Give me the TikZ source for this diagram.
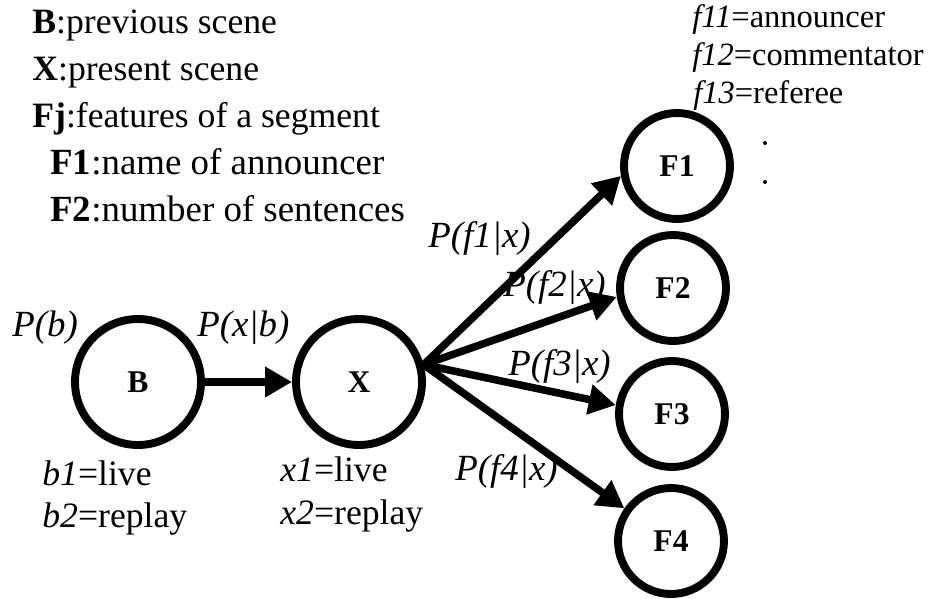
\documentclass[tikz,border=0pt]{standalone}
\usepackage{fontspec}
\setmainfont{Liberation Serif}
\usetikzlibrary{arrows.meta}

\tikzset{
  scene/.style={draw, circle, line width=4.5pt, minimum size=2.52cm, inner sep=0pt,
                font=\fontsize{18}{21}\selectfont\bfseries},
  featnode/.style={scene, minimum size=2.12cm},
  link/.style={line width=4.3pt, -{Triangle[length=0.54cm, width=0.58cm]}},
  legendtext/.style={anchor=base west, inner sep=0pt, font=\fontsize{20.3}{24}\selectfont},
  sublegend/.style={legendtext, font=\fontsize{21}{25}\selectfont},
  valtext/.style={anchor=base west, inner sep=0pt, font=\fontsize{18.5}{22}\selectfont},
  probtext/.style={anchor=west, inner sep=0pt, font=\fontsize{21}{25}\selectfont\itshape},
}

\begin{document}
\begin{tikzpicture}[x=0.02cm, y=-0.02cm]
  \fill[white] (0,0) rectangle (931,599);
  \useasboundingbox (0,0) rectangle (931,599);

  % legend
  \node[legendtext] (lgB)  at (32,33)  {\textbf{B}:previous scene};
  \node[legendtext] (lgX)  at (32,80)  {\textbf{X}:present scene};
  \node[legendtext] (lgFj) at (32,127) {\textbf{Fj}:features of a segment};
  \node[sublegend]  (lgF1) at (50,174) {\textbf{F1}:name of announcer};
  \node[sublegend]  (lgF2) at (50,221) {\textbf{F2}:number of sentences};

  % values of F1
  \node[valtext] (f11) at (692,27)  {\textit{f11}=announcer};
  \node[valtext] (f12) at (692,65)  {\textit{f12}=commentator};
  \node[valtext] (f13) at (693,103) {\textit{f13}=referee};
  \fill (765,143) circle (2) (765,182) circle (2);

  % nodes
  \node[scene] (B) at (138,382) {B};
  \node[scene] (X) at (359,382) {X};
  \node[featnode] (F1) at (677,166) {F1};
  \node[featnode] (F2) at (673,288) {F2};
  \node[featnode] (F3) at (672,414) {F3};
  \node[featnode] (F4) at (671,541) {F4};

  % arrows
  \draw[link] (B) -- (X);
  \draw[link] (X.15) -- (F1.190);
  \draw[link] (X.15) -- (F2.189);
  \draw[link] (X.15) -- (F3.171);
  \draw[link] (X.15) -- (F4.145);

  % probabilities
  \node[probtext] (pb)   at (12,328)  {P(b)};
  \node[probtext] (pxb)  at (197,328) {P(x|b)};
  \node[probtext] (pf1)  at (428,238) {P(f1|x)};
  \node[probtext] (pf2)  at (503,287) {P(f2|x)};
  \node[probtext] (pf3)  at (508,366) {P(f3|x)};
  \node[probtext] (pf4)  at (455,471) {P(f4|x)};

  % states of B and X
  \node[legendtext] (b1) at (42,485)  {\textit{b1}=live};
  \node[legendtext] (b2) at (42,527)  {\textit{b2}=replay};
  \node[legendtext] (x1) at (280,481) {\textit{x1}=live};
  \node[legendtext] (x2) at (280,524) {\textit{x2}=replay};
\end{tikzpicture}
\end{document}
